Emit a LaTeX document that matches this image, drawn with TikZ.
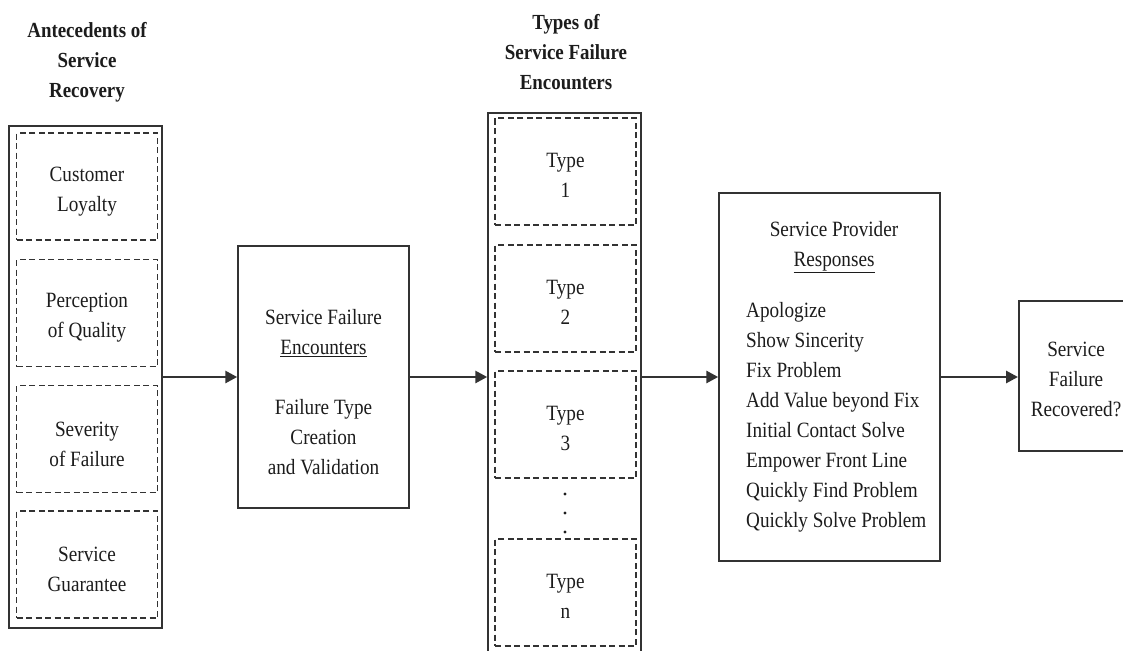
\documentclass[tikz,border=0pt]{standalone}
\usepackage{fontspec}
\setmainfont{Liberation Serif}[FakeStretch=0.88]
\usetikzlibrary{arrows.meta}
\definecolor{ink}{HTML}{1C1C1C}
\definecolor{rulegray}{HTML}{333333}

\begin{document}
\begin{tikzpicture}[x=1pt,y=-1pt,
  every node/.style={text=ink, font=\fontsize{21.8}{30}\selectfont, inner sep=0pt, align=center},
  solidbox/.style={draw=rulegray, line width=1.5pt, rectangle},
  dashbox/.style={draw=rulegray, line width=1.8pt, dash pattern=on 6pt off 3.5pt,
                  minimum width=141pt, minimum height=107pt},
  heading/.style={font=\bfseries\fontsize{21.5}{30}\selectfont},
  flow/.style={draw=rulegray, line width=2.8pt, -{Triangle[length=12pt,width=12pt]}}
]
\useasboundingbox (0,0) rectangle (1123,650);
\fill[white] (0,0) rectangle (1123,650);
\clip (0,0) rectangle (1123,650);

% column headings
\node[heading] (anteHead) at (87,62) {Antecedents of\\Service\\Recovery};
\node[heading] (typeHead) at (566,52) {Types of\\Service Failure\\Encounters};

% antecedents column
\node[solidbox, minimum width=153pt, minimum height=502pt] (ante) at (85.5,377) {};
\node[dashbox] (loyal) at (87,186.5) {};
\node[dashbox] (qual)  at (87,313)   {};
\node[dashbox] (sev)   at (87,439)   {};
\node[dashbox] (guar)  at (87,564.5) {};
\node (loyalT) at ([yshift=-5pt]loyal.center) {Customer\\Loyalty};
\node (qualT)  at ([yshift=-5pt]qual.center)  {Perception\\of Quality};
\node (sevT)   at ([yshift=-5pt]sev.center)   {Severity\\of Failure};
\node (guarT)  at ([yshift=-5pt]guar.center)  {Service\\Guarantee};

% service failure encounters
\node[solidbox, minimum width=171pt, minimum height=262pt] (enc) at (323.5,377) {};
\node (encTitle) at (323.5,333) {Service Failure\\\underline{Encounters}};
\node (encBody)  at (323.5,437) {Failure Type\\Creation\\and Validation};

% types column (runs past the lower edge)
\node[solidbox, minimum width=153pt, minimum height=587pt] (types) at (564.5,406.5) {};
\node[dashbox] (t1) at (565.5,171.5) {};
\node[dashbox] (t2) at (565.5,298.5) {};
\node[dashbox] (t3) at (565.5,424.5) {};
\node[dashbox] (tn) at (565.5,592.5) {};
\node (t1T) at ([yshift=-4pt]t1.center) {Type\\1};
\node (t2T) at ([yshift=-4pt]t2.center) {Type\\2};
\node (t3T) at ([yshift=-4pt]t3.center) {Type\\3};
\node (tnT) at ([yshift=-4pt]tn.center) {Type\\n};
\fill[ink] (565,494) circle (1.6pt);
\fill[ink] (565,513) circle (1.6pt);
\fill[ink] (565,532) circle (1.6pt);

% provider responses
\node[solidbox, minimum width=221pt, minimum height=368pt] (prov) at (829.5,377) {};
\node (provTitle) at (834,247) {Service Provider\\\underline{Responses}};
\node[align=left, anchor=west] (provList) at (746,417)
  {Apologize\\Show Sincerity\\Fix Problem\\Add Value beyond Fix\\Initial Contact Solve\\Empower Front Line\\Quickly Find Problem\\Quickly Solve Problem};

% outcome (runs past the right edge)
\node[solidbox, minimum width=130pt, minimum height=150pt, anchor=west] (rec) at (1018,376) {};
\node (recText) at (1076,379) {Service\\Failure\\Recovered?};

% connectors
\draw[flow] (ante.east) -- (enc.west);
\draw[flow] (enc.east) -- (enc.east -| types.west);
\draw[flow] (types.east |- prov.west) -- (prov.west);
\draw[flow] (prov.east) -- (prov.east -| rec.west);
\end{tikzpicture}
\end{document}
